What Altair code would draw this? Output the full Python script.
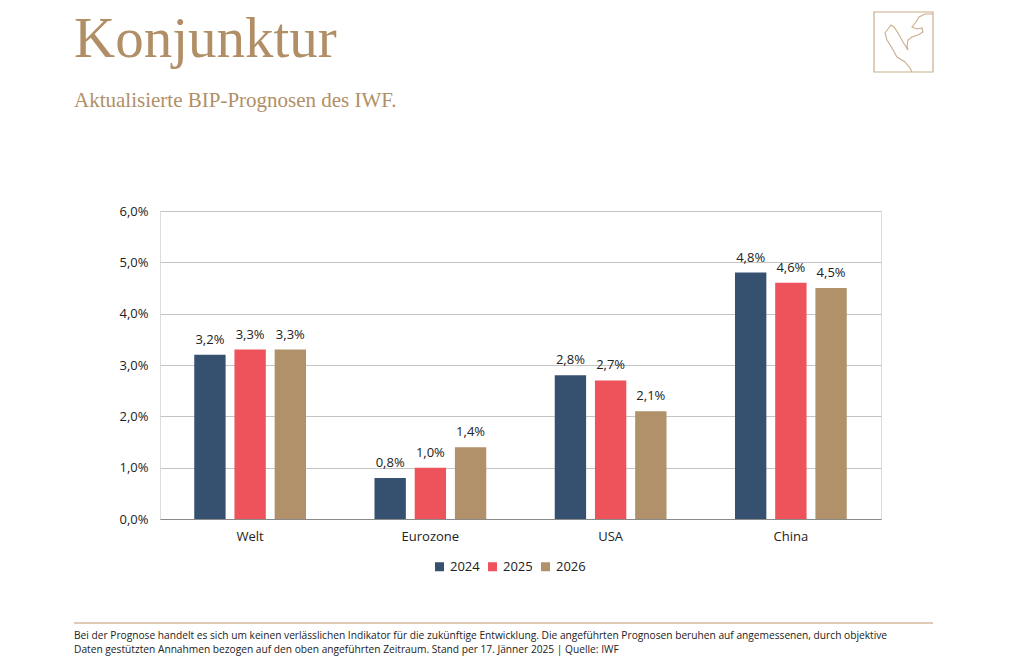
import altair as alt
import pandas as pd

categories = ["Welt", "Eurozone", "USA", "China"]
years = ["2024", "2025", "2026"]
v2024 = [3.2, 0.8, 2.8, 4.8]
v2025 = [3.3, 1.0, 2.7, 4.6]
v2026 = [3.3, 1.4, 2.1, 4.5]
colors = ["#36506f", "#ee525a", "#b0916a"]

rows = []
for i, c in enumerate(categories):
    for y, vals in zip(years, [v2024, v2025, v2026]):
        rows.append({"cat": c, "year": y, "value": vals[i]})
df = pd.DataFrame(rows)

TAN = "#b18f66"
W, H = 721, 308

x_enc = alt.X("cat:N", sort=categories, title=None,
              scale=alt.Scale(paddingInner=0.38, paddingOuter=0.19),
              axis=alt.Axis(labelAngle=0, labelFontSize=13, labelColor="#222",
                            labelFont="Open Sans", labelPadding=11, ticks=False,
                            domainColor="#8a8a8a", domainWidth=1.2, grid=False))
xo_enc = alt.XOffset("year:N", sort=years, scale=alt.Scale(paddingInner=0.22, paddingOuter=0))
y_enc = alt.Y("value:Q", title=None,
              scale=alt.Scale(domain=[0, 6], nice=False),
              axis=alt.Axis(values=[0, 1, 2, 3, 4, 5, 6], labelFontSize=13,
                            labelColor="#222", labelFont="Open Sans", labelPadding=12,
                            labelExpr="replace(format(datum.value, '.1f'), '.', ',') + '%'",
                            ticks=False, domain=False, gridColor="#c4c4c4", gridWidth=1))

base = alt.Chart(df)
bars = base.mark_bar().encode(
    x=x_enc, xOffset=xo_enc, y=y_enc,
    color=alt.Color("year:N", sort=years, title=None,
                    scale=alt.Scale(domain=years, range=colors),
                    legend=alt.Legend(orient="none", legendX=273, legendY=349,
                                      direction="horizontal", symbolType="square",
                                      symbolSize=81, symbolStrokeWidth=0,
                                      labelFontSize=13, labelFont="Open Sans",
                                      labelColor="#222", columnPadding=6, labelOffset=4)),
)
labels = base.transform_calculate(
    lbl="replace(format(datum.value, '.1f'), '.', ',') + '%'"
).mark_text(dy=-8, fontSize=13, font="Open Sans", color="#222", baseline="bottom").encode(
    x=alt.X("cat:N", sort=categories), xOffset=alt.XOffset("year:N", sort=years),
    y=alt.Y("value:Q"), text="lbl:N")

dummy = pd.DataFrame({"d": [0]})
def txt(s, x, y, size, font, color, **kw):
    return alt.Chart(dummy).mark_text(align="left", baseline="alphabetic", fontSize=size,
                                      font=font, color=color, **kw).encode(
        x=alt.value(x), y=alt.value(y), text=alt.value(s))

title = txt("Konjunktur", -86, -154, 57, "Liberation Serif", TAN)
subtitle = txt("Aktualisierte BIP-Prognosen des IWF.", -86, -104, 21, "Liberation Serif", TAN)
foot1 = txt("Bei der Prognose handelt es sich um keinen verlässlichen Indikator für die zukünftige Entwicklung. "
            "Die angeführten Prognosen beruhen auf angemessenen, durch objektive",
            -86, 428, 10.2, "Open Sans", "#222")
foot2 = txt("Daten gestützten Annahmen bezogen auf den oben angeführten Zeitraum. Stand per 17. Jänner 2025 | Quelle: IWF",
            -86, 442, 10.2, "Open Sans", "#222")
rule = alt.Chart(dummy).mark_rule(color="#d7b99a", strokeWidth=1.5).encode(
    x=alt.value(-86), x2=alt.value(773), y=alt.value(412))
logo = alt.Chart(dummy).mark_rect(fill=None, stroke="#c9ae8c", strokeWidth=1.2).encode(
    x=alt.value(714), x2=alt.value(773), y=alt.value(-199), y2=alt.value(-139))

logo_path = ("M 0.983 -0.933 L 0.717 -0.933 L 0.517 -0.833 L 0.417 -0.667 L 0.283 -0.5 "
             "L 0.45 -0.433 L 0.617 -0.467 L 0.65 -0.333 L 0.483 -0.233 L 0.283 -0.167 "
             "L 0.15 -0.067 L 0.117 0.133 L 0.15 0.267 L -0.017 0 L -0.183 -0.3 "
             "L -0.317 -0.5 L -0.417 -0.567 L -0.517 -0.433 L -0.617 -0.3 L -0.55 -0.067 "
             "L -0.383 0.2 L -0.217 0.5 L 0.05 0.667 L 0.217 0.867 L 0.283 1.0")
squiggle = alt.Chart(dummy).mark_point(shape=logo_path, filled=False, stroke="#c9ae8c",
                                       strokeWidth=1.1, opacity=1, size=3600).encode(
    x=alt.value(743.5), y=alt.value(-169))

chart = alt.layer(bars, labels, title, subtitle, foot1, foot2, rule, logo, squiggle).properties(
    width=W, height=H,
    autosize=alt.AutoSizeParams(type="none"),
    padding={"left": 152, "top": 203, "right": 135, "bottom": 148},
).configure_view(stroke=None).configure(background="white")

chart.save("out.html", embed_options={"renderer": "svg", "actions": False})
